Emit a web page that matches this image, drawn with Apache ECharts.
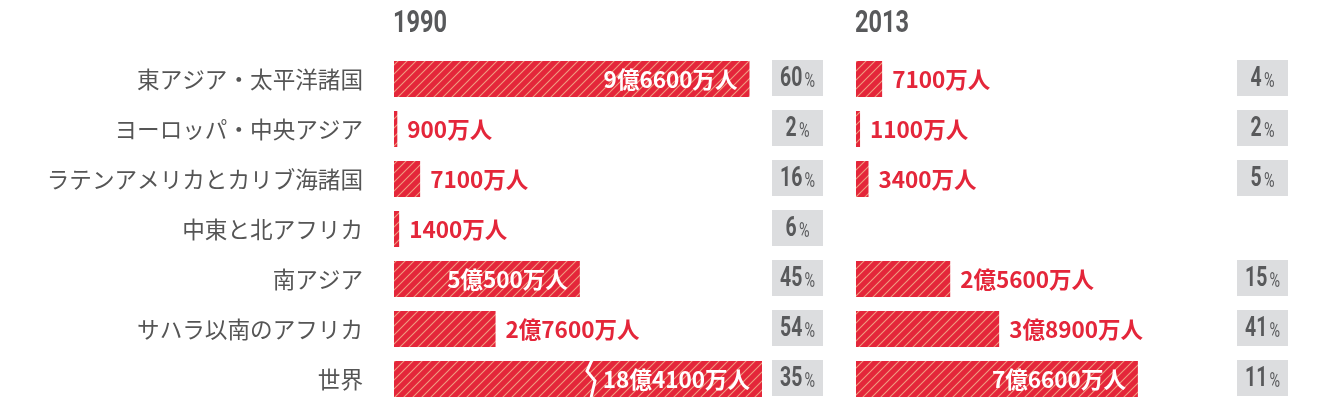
<!DOCTYPE html>
<html>
<head>
<meta charset="utf-8">
<script src="https://cdn.jsdelivr.net/npm/echarts@6/dist/echarts.min.js"></script>
<style>
html,body{margin:0;padding:0;background:#fff;}
#c{width:1330px;height:418px;}
</style>
</head>
<body>
<div id="c"></div>
<script>
// ---- data ----
const categories = ['東アジア・太平洋諸国','ヨーロッパ・中央アジア','ラテンアメリカとカリブ海諸国','中東と北アフリカ','南アジア','サハラ以南のアフリカ','世界'];
const years = ['1990', '2013'];
// number of people in extreme poverty, in 万人
const poor1990 = [96600, 900, 7100, 1400, 50500, 27600, 184100];
const poor2013 = [7100, 1100, 3400, null, 25600, 38900, 76600];
// poverty rate, %
const rate1990 = [60, 2, 16, 6, 45, 54, 35];
const rate2013 = [4, 2, 5, null, 15, 41, 11];
// axis upper bound (bars above it are cut with a break mark)
const axisMax = 100000;
const breakAt = 53800;

// ---- styles ----
const RED = '#e4263a';
const STRIPE = '#f09c80';
const GRAY = '#58595b';
const BOX = '#dcdddf';
const NUMF = 'Roboto, "DejaVu Sans", sans-serif';
const CJK = '"Noto Sans CJK JP","Noto Sans",sans-serif';

function makePattern() {
  const s = 9;
  const c = document.createElement('canvas');
  c.width = s; c.height = s;
  const g = c.getContext('2d');
  g.fillStyle = RED; g.fillRect(0, 0, s, s);
  g.strokeStyle = STRIPE; g.lineWidth = 1.1;
  g.beginPath();
  g.moveTo(-1, s + 1); g.lineTo(s + 1, -1);
  g.moveTo(-1, 1); g.lineTo(1, -1);
  g.moveTo(s - 1, s + 1); g.lineTo(s + 1, s - 1);
  g.stroke();
  return c;
}
const pattern = { image: makePattern(), repeat: 'repeat' };

function fmtPeople(v) {
  if (v == null) return '';
  const oku = Math.floor(v / 10000);
  const man = v % 10000;
  return (oku > 0 ? oku + '億' : '') + (man > 0 ? man + '万' : '') + '人';
}

function barData(arr) {
  return arr.map(v => {
    if (v == null) return { value: null, label: { show: false } };
    const inside = v > 45000;
    return {
      value: v,
      label: {
        show: true,
        position: inside ? 'insideRight' : 'right',
        distance: inside ? 12 : 10,
        color: inside ? '#ffffff' : RED
      }
    };
  });
}

// percentage boxes, placed just right of each grid
function rateSeries(gridAxisIndex, rates, gap) {
  return {
    type: 'custom', xAxisIndex: gridAxisIndex, yAxisIndex: gridAxisIndex * 2, z: 4, silent: true, clip: false,
    data: rates.map((r, i) => r == null ? null : [r, i]).filter(d => d),
    renderItem: (params, api) => {
      const cs = params.coordSys;
      const cy = api.coord([0, api.value(1)])[1];
      const h = api.size([0, 1])[1] * 0.72;
      const bx = cs.x + cs.width + gap;
      const bw = 51;
      return {
        type: 'group',
        children: [
          { type: 'rect', shape: { x: bx, y: cy - h / 2 - 1, width: bw, height: h }, style: { fill: BOX } },
          {
            type: 'text', x: bx + bw / 2, y: cy - 1, scaleX: 0.72,
            style: {
              text: '{n|' + api.value(0) + '}{p|%}',
              align: 'center', verticalAlign: 'middle',
              rich: {
                n: { fontFamily: NUMF, fontWeight: 'bold', fontSize: 27, fill: GRAY, lineHeight: 30, verticalAlign: 'bottom' },
                p: { fontFamily: NUMF, fontWeight: 'normal', fontSize: 20, fill: GRAY, lineHeight: 30, verticalAlign: 'bottom', padding: [0, 0, 1, 3] }
              }
            }
          }
        ]
      };
    }
  };
}

const labelCommon = {
  fontFamily: CJK, fontWeight: 'bold', fontSize: 22.5,
  formatter: p => fmtPeople(p.value)
};

const chart = echarts.init(document.getElementById('c'), null, { renderer: 'canvas' });
chart.setOption({
  animation: false,
  graphic: [
    { type: 'text', x: 393, y: 24, scaleX: 0.76, style: { text: years[0], fontFamily: NUMF, fontWeight: 'bold', fontSize: 31, fill: GRAY, verticalAlign: 'middle' } },
    { type: 'text', x: 855, y: 24, scaleX: 0.76, style: { text: years[1], fontFamily: NUMF, fontWeight: 'bold', fontSize: 31, fill: GRAY, verticalAlign: 'middle' } }
  ],
  grid: [
    { left: 394, top: 54, width: 368, height: 350, outerBoundsMode: 'none' },
    { left: 856, top: 54, width: 368, height: 350, outerBoundsMode: 'none' }
  ],
  xAxis: [
    { type: 'value', gridIndex: 0, min: 0, max: axisMax, show: false },
    { type: 'value', gridIndex: 1, min: 0, max: axisMax, show: false }
  ],
  yAxis: [
    {
      type: 'category', gridIndex: 0, inverse: true, data: categories,
      axisLine: { show: false }, axisTick: { show: false },
      axisLabel: { margin: 31, fontFamily: CJK, fontSize: 22.6, color: '#555555' }
    },
    { type: 'category', gridIndex: 0, inverse: true, data: categories, show: false, position: 'right' },
    { type: 'category', gridIndex: 1, inverse: true, data: categories, show: false }
  ],
  series: [
    {
      type: 'bar', xAxisIndex: 0, yAxisIndex: 0, barWidth: 36, clip: true,
      itemStyle: { color: pattern },
      label: labelCommon,
      data: barData(poor1990), z: 2
    },
    {
      type: 'bar', xAxisIndex: 1, yAxisIndex: 2, barWidth: 36, clip: true,
      itemStyle: { color: pattern },
      label: labelCommon,
      data: barData(poor2013), z: 2
    },
    {
      type: 'custom', xAxisIndex: 0, yAxisIndex: 0, z: 5, silent: true,
      data: poor1990.map((v, i) => v > axisMax ? [breakAt, i] : null).filter(d => d),
      renderItem: (params, api) => {
        const p = api.coord([api.value(0), api.value(1)]);
        const h = api.size([0, 1])[1] * 0.72;
        const top = p[1] - h / 2;
        return {
          type: 'polyline',
          shape: { points: [[p[0], top - 1], [p[0] - 5, top + h * 0.28], [p[0] + 3, top + h * 0.55], [p[0] - 1, top + h + 1]] },
          style: { stroke: '#ffffff', lineWidth: 3, fill: null }
        };
      }
    },
    rateSeries(0, rate1990, 10),
    rateSeries(1, rate2013, 13)
  ]
});
</script>
</body>
</html>
